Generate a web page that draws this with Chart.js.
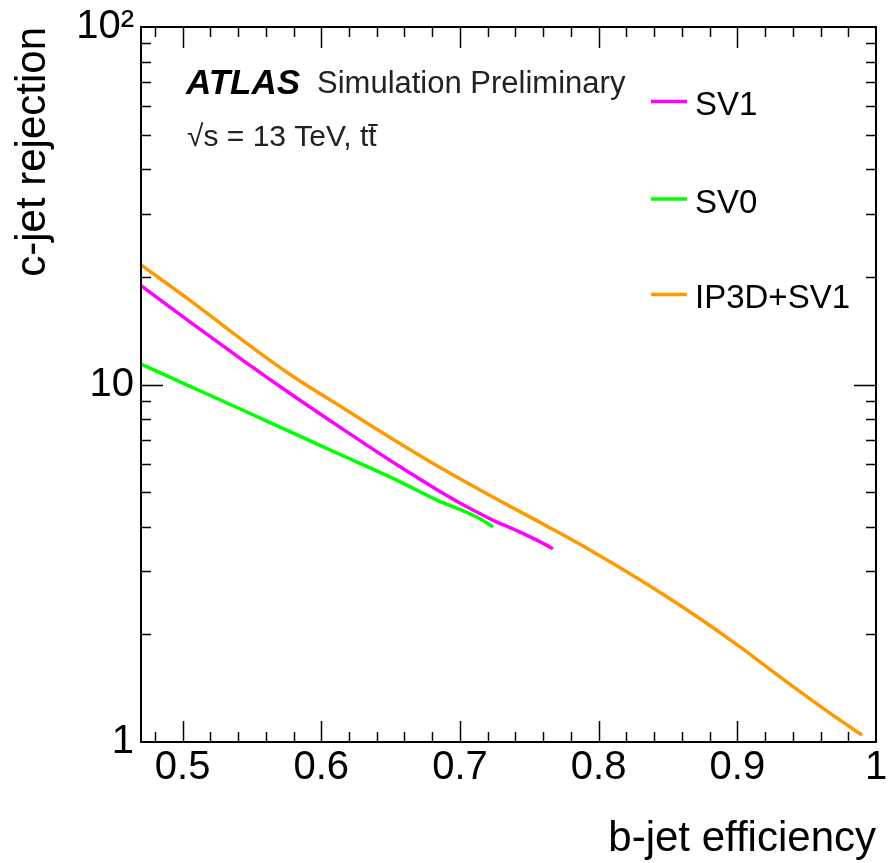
<!DOCTYPE html>
<html>
<head>
<meta charset="utf-8">
<script src="https://cdn.jsdelivr.net/npm/chart.js@4.4.1/dist/chart.umd.min.js"></script>
<style>
  html, body { margin: 0; padding: 0; background: #fff; }
  #wrap { width: 894px; height: 863px; }
</style>
</head>
<body>
<div id="wrap"><canvas id="myChart" width="894" height="863"></canvas></div>
<script>
// b-jet efficiency vs c-jet rejection
const sv1Eff = [0.470, 0.507, 0.546, 0.577, 0.616, 0.654, 0.685, 0.705, 0.724, 0.743, 0.762, 0.767]
const sv1Rej = [18.9, 14.8, 11.5, 9.47, 7.48, 5.98, 5.04, 4.55, 4.17, 3.87, 3.56, 3.47]

const sv0Eff = [0.470, 0.507, 0.546, 0.577, 0.616, 0.654, 0.685, 0.700, 0.712, 0.724]
const sv0Rej = [11.4, 9.82, 8.39, 7.39, 6.31, 5.41, 4.72, 4.47, 4.26, 4.0]

const ipEff = [0.470, 0.507, 0.546, 0.577, 0.616, 0.654, 0.685, 0.724, 0.762, 0.794, 0.830, 0.866, 0.902, 0.919, 0.943, 0.967, 0.990]
const ipRej = [21.6, 17.0, 13.06, 10.7, 8.58, 6.94, 5.88, 4.84, 4.03, 3.44, 2.84, 2.31, 1.845, 1.646, 1.403, 1.202, 1.045]

const seriesNames = ['SV1', 'SV0', 'IP3D+SV1']
const seriesColors = ['rgb(255, 0, 255)', 'rgb(0, 255, 0)', 'rgb(255, 153, 0)']

const xTicks = [0.5, 0.6, 0.7, 0.8, 0.9, 1.0]
const yTicks = [1, 10, 100]

function pts(xs, ys) {
  return xs.map((x, i) => ({x: x, y: ys[i]}))
}

const FONT = '"Liberation Sans", Arial, Helvetica, sans-serif'

// frame, inward ticks, legend and ATLAS label
const decor = {
  id: 'decor',
  afterDatasetsDraw(chart) {
    const ctx = chart.ctx
    const a = chart.chartArea
    const xs = chart.scales.x
    const ys = chart.scales.y
    ctx.save()
    ctx.strokeStyle = '#000'
    ctx.lineWidth = 1.5
    ctx.beginPath()
    // x ticks, every 0.02, major every 0.1
    for (let k = 24; k <= 50; k++) {
      const v = k / 50
      const px = Math.round(xs.getPixelForValue(v)) + 0.5
      if (px < a.left + 2 || px > a.right - 2) continue
      const len = (k % 5 === 0) ? 21 : 10
      ctx.moveTo(px, a.bottom); ctx.lineTo(px, a.bottom - len)
      ctx.moveTo(px, a.top); ctx.lineTo(px, a.top + len)
    }
    // y ticks, log decades
    for (const dec of [1, 10]) {
      for (let m = 1; m <= 9; m++) {
        const v = dec * m
        if (v === 1) continue
        const py = Math.round(ys.getPixelForValue(v)) + 0.5
        const len = (m === 1) ? 22 : 10
        ctx.moveTo(a.left, py); ctx.lineTo(a.left + len, py)
        ctx.moveTo(a.right, py); ctx.lineTo(a.right - len, py)
      }
    }
    ctx.stroke()
    ctx.lineWidth = 2
    ctx.strokeRect(a.left, a.top, a.right - a.left, a.bottom - a.top)

    // legend
    const legY = [101.5, 199, 294.5]
    chart.data.datasets.forEach((ds, i) => {
      ctx.strokeStyle = ds.borderColor
      ctx.lineWidth = 3.5
      ctx.beginPath()
      ctx.moveTo(651, legY[i]); ctx.lineTo(687, legY[i])
      ctx.stroke()
      ctx.fillStyle = '#000'
      ctx.font = '33px ' + FONT
      ctx.textBaseline = 'alphabetic'
      ctx.textAlign = 'left'
      ctx.fillText(ds.label, 695, legY[i] + 13.5)
    })

    // ATLAS label
    ctx.fillStyle = '#000'
    ctx.font = 'italic bold 35px ' + FONT
    ctx.fillText('ATLAS', 186, 94)
    ctx.fillStyle = '#222'
    ctx.font = '31px ' + FONT
    ctx.fillText('Simulation Preliminary', 317, 93)
    ctx.font = '30px ' + FONT
    const txt = '\u221As = 13 TeV, tt'
    ctx.fillText(txt, 187, 146)
    const w = ctx.measureText(txt).width
    const tw = ctx.measureText('t').width
    ctx.strokeStyle = '#222'
    ctx.lineWidth = 2
    ctx.beginPath()
    ctx.moveTo(187 + w - tw, 125)
    ctx.lineTo(187 + w + 1, 125)
    ctx.stroke()
    ctx.restore()
  }
}

const ctx = document.getElementById('myChart')

const data = {
  datasets: [0, 1, 2].map(i => ({
    label: seriesNames[i],
    data: [pts(sv1Eff, sv1Rej), pts(sv0Eff, sv0Rej), pts(ipEff, ipRej)][i],
    borderColor: seriesColors[i],
    backgroundColor: seriesColors[i],
    borderWidth: 3.5,
    pointRadius: 0,
    cubicInterpolationMode: 'monotone',
    fill: false
  }))
}

const config = {
  type: 'line',
  data: data,
  plugins: [decor],
  options: {
    responsive: false,
    animation: false,
    layout: { padding: { top: 26, right: 18, left: 0, bottom: 0 } },
    plugins: {
      legend: { display: false },
      tooltip: { enabled: false }
    },
    scales: {
      x: {
        type: 'linear',
        min: 0.47,
        max: 1.0,
        afterBuildTicks: s => { s.ticks = xTicks.map(v => ({value: v})) },
        afterFit: s => { s.height = 121 },
        grid: { display: false, drawTicks: false },
        border: { display: false },
        ticks: {
          autoSkip: false,
          maxRotation: 0,
          padding: 6,
          color: '#000',
          font: { family: FONT, size: 40, lineHeight: 1 },
          callback: v => (v === 1 ? '1' : v.toFixed(1))
        },
        title: {
          display: true,
          text: 'b-jet efficiency',
          align: 'end',
          color: '#000',
          padding: { top: 0, bottom: 3 },
          font: { family: FONT, size: 42, lineHeight: 1 }
        }
      },
      y: {
        type: 'logarithmic',
        min: 1,
        max: 100,
        afterBuildTicks: s => { s.ticks = yTicks.map(v => ({value: v})) },
        afterFit: s => { s.width = 141 },
        grid: { display: false, drawTicks: false },
        border: { display: false },
        ticks: {
          autoSkip: false,
          padding: 7,
          color: '#000',
          font: { family: FONT, size: 40, lineHeight: 1 },
          callback: v => (v === 100 ? '10\u00B2' : String(v))
        },
        title: {
          display: true,
          text: 'c-jet rejection',
          align: 'end',
          color: '#000',
          padding: { top: 12, bottom: 0 },
          font: { family: FONT, size: 42, lineHeight: 1 }
        }
      }
    }
  }
}

const myChart = new Chart(ctx, config)
</script>
</body>
</html>
